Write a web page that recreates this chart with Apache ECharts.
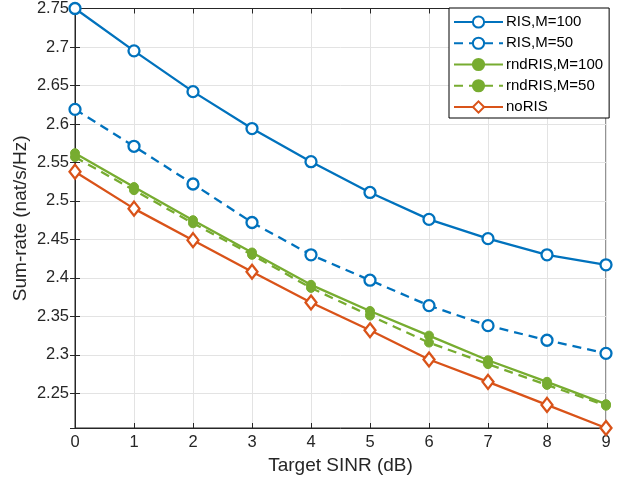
<!DOCTYPE html>
<html>
<head>
<meta charset="utf-8">
<script src="https://cdn.jsdelivr.net/npm/echarts@6/dist/echarts.min.js"></script>
<style>
html,body{margin:0;padding:0;background:#fff;}
#chart{width:628px;height:484px;}
</style>
</head>
<body>
<div id="chart"></div>
<script>
const sinr = [0, 1, 2, 3, 4, 5, 6, 7, 8, 9];
const risM100 = [2.750, 2.695, 2.642, 2.594, 2.551, 2.511, 2.476, 2.451, 2.430, 2.417];
const risM50 = [2.619, 2.571, 2.522, 2.472, 2.430, 2.397, 2.364, 2.338, 2.319, 2.302];
const rndM100 = [2.562, 2.518, 2.475, 2.433, 2.391, 2.357, 2.325, 2.293, 2.265, 2.236];
const rndM50 = [2.557, 2.514, 2.471, 2.430, 2.387, 2.351, 2.316, 2.288, 2.261, 2.234];
const noRIS = [2.538, 2.490, 2.449, 2.408, 2.368, 2.332, 2.294, 2.265, 2.235, 2.205];
const seriesNames = ['RIS,M=100', 'RIS,M=50', 'rndRIS,M=100', 'rndRIS,M=50', 'noRIS'];
const xTitle = 'Target SINR (dB)';
const yTitle = 'Sum-rate (nat/s/Hz)';

const FONT = '"Liberation Sans", Arial, Helvetica, sans-serif';
const AX = '#262626';
const BLUE = '#0072BD', GREEN = '#77AC30', ORANGE = '#D95319';
const pts = arr => sinr.map((x, i) => [x, arr[i]]);
const fmtY = v => {
  const r = Math.round(v * 100) / 100;
  if (Math.abs(r * 20 - Math.round(r * 20)) > 1e-6 || Math.abs(v - r) > 1e-4) return '';
  return String(+r.toFixed(2));
};

const chart = echarts.init(document.getElementById('chart'), null, {renderer: 'canvas'});
const mk = (name, data, color, dashed, symbol, size, filled) => ({
  name, type: 'line', data: pts(data), symbol, symbolSize: size,
  showSymbol: true,
  lineStyle: {color, width: 2.3, type: dashed ? [9, 6] : 'solid'},
  itemStyle: filled ? {color, borderColor: color, borderWidth: 1} : {color: '#fff', borderColor: color, borderWidth: 2.3},
  emphasis: {disabled: true},
  animation: false
});
chart.setOption({
  animation: false,
  textStyle: {fontFamily: FONT},
  grid: {left: 75, right: 22, top: 8, bottom: 56, show: true, borderColor: AX, borderWidth: 1, backgroundColor: '#fff'},
  legend: {
    show: true, orient: 'vertical', left: 449, top: 8,
    padding: [6.5, 6, 3.5, 4], itemGap: 6.25, itemWidth: 49, itemHeight: 14,
    backgroundColor: '#fff', borderColor: '#000', borderWidth: 1, borderRadius: 0,
    textStyle: {fontFamily: FONT, fontSize: 15, lineHeight: 14, color: '#000', padding: [0, 0, 0, -2]},
    data: seriesNames
  },
  xAxis: [{
    type: 'value', min: 0, max: 9, interval: 1,
    name: xTitle, nameLocation: 'middle', nameGap: 27,
    nameTextStyle: {fontFamily: FONT, fontSize: 19, color: AX},
    axisLine: {show: true, lineStyle: {color: AX, width: 1}},
    axisTick: {show: true, inside: true, length: 5, lineStyle: {color: AX}},
    axisLabel: {fontFamily: FONT, fontSize: 16.5, color: AX, margin: 6},
    splitLine: {show: true, lineStyle: {color: '#e3e3e3', width: 1}}
  }, {
    type: 'value', min: 0, max: 9, interval: 1, position: 'top',
    axisLine: {show: true, lineStyle: {color: AX}},
    axisTick: {show: true, inside: true, length: 5, lineStyle: {color: AX}},
    axisLabel: {show: false}, splitLine: {show: false}
  }],
  yAxis: [{
    type: 'value', min: 2.205, max: 2.75, splitNumber: 11,
    name: yTitle, nameLocation: 'middle', nameGap: 45, nameMoveOverlap: false,
    nameTextStyle: {fontFamily: FONT, fontSize: 19, color: AX},
    axisLine: {show: true, lineStyle: {color: AX, width: 1}},
    axisTick: {show: true, inside: true, length: 5, lineStyle: {color: AX}},
    axisLabel: {fontFamily: FONT, fontSize: 16.5, color: AX, margin: 6, formatter: fmtY, showMinLabel: false},
    splitLine: {show: true, lineStyle: {color: '#e3e3e3', width: 1}}
  }, {
    type: 'value', min: 2.205, max: 2.75, splitNumber: 11, position: 'right',
    axisLine: {show: true, lineStyle: {color: AX}},
    axisTick: {show: true, inside: true, length: 5, lineStyle: {color: AX}},
    axisLabel: {show: false}, splitLine: {show: false}
  }],
  series: [
    mk(seriesNames[0], risM100, BLUE, false, 'circle', 11, false),
    mk(seriesNames[1], risM50, BLUE, true, 'circle', 11, false),
    mk(seriesNames[2], rndM100, GREEN, false, 'circle', 9, true),
    mk(seriesNames[3], rndM50, GREEN, true, 'circle', 9, true),
    mk(seriesNames[4], noRIS, ORANGE, false, 'diamond', [11, 14], false)
  ]
});
</script>
</body>
</html>
